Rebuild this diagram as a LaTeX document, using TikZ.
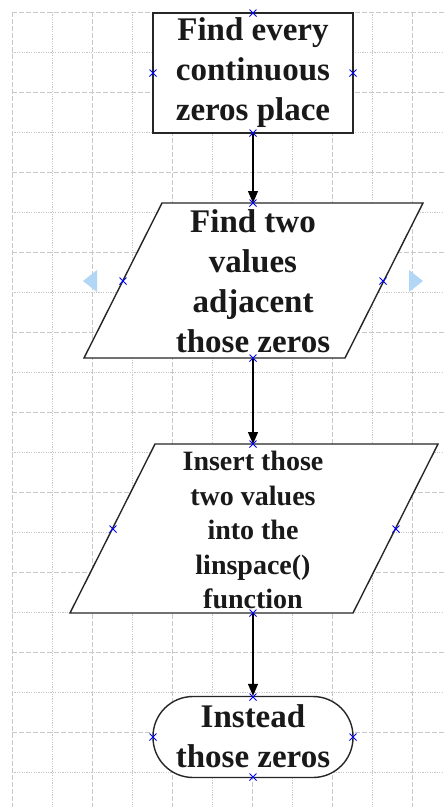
\documentclass[tikz,border=0pt]{standalone}
\usepackage{fontspec}
\setmainfont{Liberation Serif}
\usetikzlibrary{arrows.meta}
\definecolor{handleblue}{RGB}{178,214,246}
\definecolor{gridgray}{RGB}{200,200,200}
\tikzset{
  gridmajor/.style={draw=gridgray, line width=0.9pt, dash pattern=on 5pt off 2pt},
  gridminor/.style={draw=gridgray, line width=0.9pt, dash pattern=on 1.2pt off 1.2pt},
  shapeline/.style={draw=black!85, line width=1.4pt, fill=white},
  flowarrow/.style={draw=black, line width=1.3pt, -{Triangle[width=10pt,length=12pt]}},
  bigtext/.style={font=\fontsize{33}{40}\selectfont\bfseries, align=center, inner sep=0pt, text=black!90},
  smalltext/.style={font=\fontsize{28}{34.5}\selectfont\bfseries, align=center, inner sep=0pt, text=black!90},
  xm/.style={draw=blue, line width=0.8pt},
  handle/.style={fill=handleblue, draw=none}
}
\begin{document}
\begin{tikzpicture}[x=1pt,y=-1pt]
\fill[white] (0,0) rectangle (444,807);
\useasboundingbox (0,0) rectangle (444,807);
% grid
\foreach \k in {0,...,10} {
  \pgfmathsetmacro{\xx}{12+40*\k}
  \ifodd\k
    \draw[gridminor] (\xx,12) -- (\xx,807);
  \else
    \draw[gridmajor] (\xx,12) -- (\xx,807);
  \fi
}
\foreach \k in {0,...,19} {
  \pgfmathsetmacro{\yy}{12+40*\k}
  \ifodd\k
    \draw[gridminor] (12,\yy) -- (444,\yy);
  \else
    \draw[gridmajor] (12,\yy) -- (444,\yy);
  \fi
}
% box 1
\node[shapeline, rectangle, minimum width=200pt, minimum height=120pt] (b1) at (253,73) {};
\node[bigtext] (t1) at (253,73) {Find every\\continuous\\zeros place};
% parallelogram 2
\draw[shapeline] (162,203) coordinate (p2tl) -- (423,203) coordinate (p2tr) -- (345,358) coordinate (p2br) -- (84,358) coordinate (p2bl) -- cycle;
\coordinate (p2top) at (253,203);
\coordinate (p2bot) at (253,358);
\node[bigtext] (t2) at (253,281) {Find two\\values\\adjacent\\those zeros};
% parallelogram 3
\draw[shapeline] (155,444) coordinate (p3tl) -- (438,444) coordinate (p3tr) -- (353,613) coordinate (p3br) -- (70,613) coordinate (p3bl) -- cycle;
\coordinate (p3top) at (253,444);
\coordinate (p3bot) at (253,613);
\node[smalltext] (t3) at (253,530) {Insert those\\two values\\into the\\linspace()\\function};
% terminal
\node[shapeline, rectangle, rounded corners=40pt, minimum width=200pt, minimum height=81pt] (b4) at (253,737) {};
\node[bigtext] (t4) at (253,736) {Instead\\those zeros};
% arrows
\draw[flowarrow] (b1.south) -- (p2top);
\draw[flowarrow] (p2bot) -- (p3top);
\draw[flowarrow] (p3bot) -- (b4.north);
% handles
\fill[handle] (83,281) -- (97,270) -- (97,292) -- cycle;
\fill[handle] (423,281) -- (409,270) -- (409,292) -- cycle;
% connection markers
\foreach \px/\py in {253/13, 153/73, 353/73, 253/133,
                     253/203, 123/281, 383/281, 253/358,
                     253/444, 113/529, 396/529, 253/613,
                     253/697, 153/737, 353/737, 253/777} {
  \draw[xm] (\px,\py) ++(-3.5,-3.5) -- ++(7,7) ++(-7,0) -- ++(7,-7);
}
\end{tikzpicture}
\end{document}
